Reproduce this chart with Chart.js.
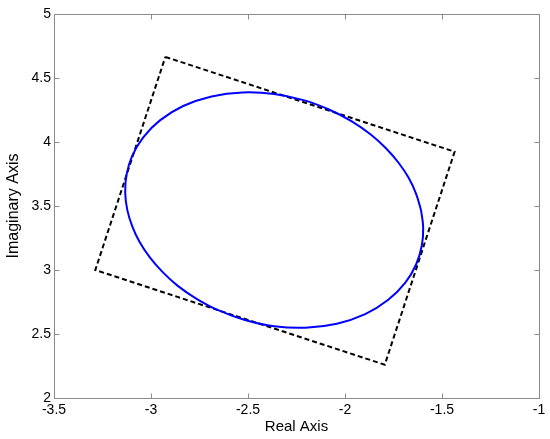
<!DOCTYPE html>
<html><head><meta charset="utf-8">
<script src="https://cdn.jsdelivr.net/npm/chart.js@4/dist/chart.umd.min.js"></script>
<style>html,body{margin:0;padding:0;background:#fff;}#wrap{width:550px;height:439px;}</style>
</head><body><div id="wrap"><canvas id="c" width="550" height="439"></canvas></div>
<script>
const xTickValues = [-3.5, -3, -2.5, -2, -1.5, -1];
const yTickValues = [2, 2.5, 3, 3.5, 4, 4.5, 5];
const xTitle = 'Real Axis';
const yTitle = 'Imaginary Axis';

// dashed rectangle (corners, closed)
const boxX = [-2.926, -1.435, -1.795, -3.287, -2.926];
const boxY = [4.665, 3.924, 2.260, 3.000, 4.665];

// ellipse trace
const ellipseX = [-1.608,-1.634,-1.672,-1.724,-1.789,-1.869,-1.965,-2.080,-2.214,-2.365,-2.527,-2.688,-2.834,-2.954,-3.041,-3.097,-3.126,-3.133,
                  -3.122,-3.096,-3.058,-3.006,-2.941,-2.862,-2.765,-2.651,-2.516,-2.365,-2.203,-2.042,-1.896,-1.777,-1.689,-1.633,-1.604,-1.597,-1.608];
const ellipseY = [3.468,3.597,3.720,3.838,3.951,4.060,4.161,4.252,4.327,4.375,4.387,4.356,4.281,4.169,4.035,3.891,3.745,3.603,
                  3.468,3.339,3.216,3.098,2.985,2.876,2.775,2.684,2.610,2.561,2.549,2.580,2.655,2.767,2.901,3.045,3.191,3.333,3.468];

const toPts = (xs, ys) => xs.map((x, i) => ({x: x, y: ys[i]}));

const frame = {
  id: 'frame',
  afterDraw(chart) {
    const {ctx, chartArea: a, scales: {x, y}} = chart;
    ctx.save();
    ctx.strokeStyle = '#8a8a8a';
    ctx.lineWidth = 1;
    const L = Math.round(a.left) + 0.5, R = Math.round(a.right) + 0.5;
    const T = Math.round(a.top) + 0.5, B = Math.round(a.bottom) + 0.5;
    ctx.beginPath();
    ctx.rect(L, T, R - L, B - T);
    const tl = 5;
    xTickValues.forEach(v => {
      const px = Math.round(x.getPixelForValue(v)) + 0.5;
      ctx.moveTo(px, B); ctx.lineTo(px, B - tl);
      ctx.moveTo(px, T); ctx.lineTo(px, T + tl);
    });
    yTickValues.forEach(v => {
      const py = Math.round(y.getPixelForValue(v)) + 0.5;
      ctx.moveTo(L, py); ctx.lineTo(L + tl, py);
      ctx.moveTo(R, py); ctx.lineTo(R - tl, py);
    });
    ctx.stroke();
    ctx.restore();
  }
};

const fam = '"Liberation Sans", Arial, sans-serif';
const tickFont = {family: fam, size: 14};

new Chart(document.getElementById('c'), {
  type: 'scatter',
  data: {
    datasets: [
      {
        data: toPts(ellipseX, ellipseY),
        showLine: true,
        borderColor: '#0000ff',
        borderWidth: 2,
        pointRadius: 0,
        tension: 0.4,
        fill: false
      },
      {
        data: toPts(boxX, boxY),
        showLine: true,
        borderColor: '#000000',
        borderWidth: 2,
        borderDash: [5, 3],
        pointRadius: 0,
        tension: 0,
        fill: false
      }
    ]
  },
  options: {
    responsive: false,
    animation: false,
    events: [],
    layout: {padding: {top: 14, right: 11, left: 0, bottom: 0}},
    plugins: {legend: {display: false}, tooltip: {enabled: false}},
    scales: {
      x: {
        type: 'linear', min: -3.5, max: -1,
        afterBuildTicks: s => { s.ticks = xTickValues.map(v => ({value: v})); },
        afterFit: s => { s.height = 41; },
        grid: {display: false, drawTicks: false},
        border: {display: false},
        ticks: {color: '#000', font: tickFont, padding: 4, maxRotation: 0, callback: v => String(v)},
        title: {display: true, text: xTitle, color: '#000', font: {family: fam, size: 15}, padding: {top: 0, bottom: 3}}
      },
      y: {
        type: 'linear', min: 2, max: 5,
        afterBuildTicks: s => { s.ticks = yTickValues.map(v => ({value: v})); },
        afterFit: s => { s.width = 54; },
        grid: {display: false, drawTicks: false},
        border: {display: false},
        ticks: {color: '#000', font: tickFont, padding: 3, callback: v => String(v)},
        title: {display: true, text: yTitle, color: '#000', font: {family: fam, size: 16}, padding: {top: 4, bottom: 0}}
      }
    }
  },
  plugins: [frame]
});
</script>
</body></html>
